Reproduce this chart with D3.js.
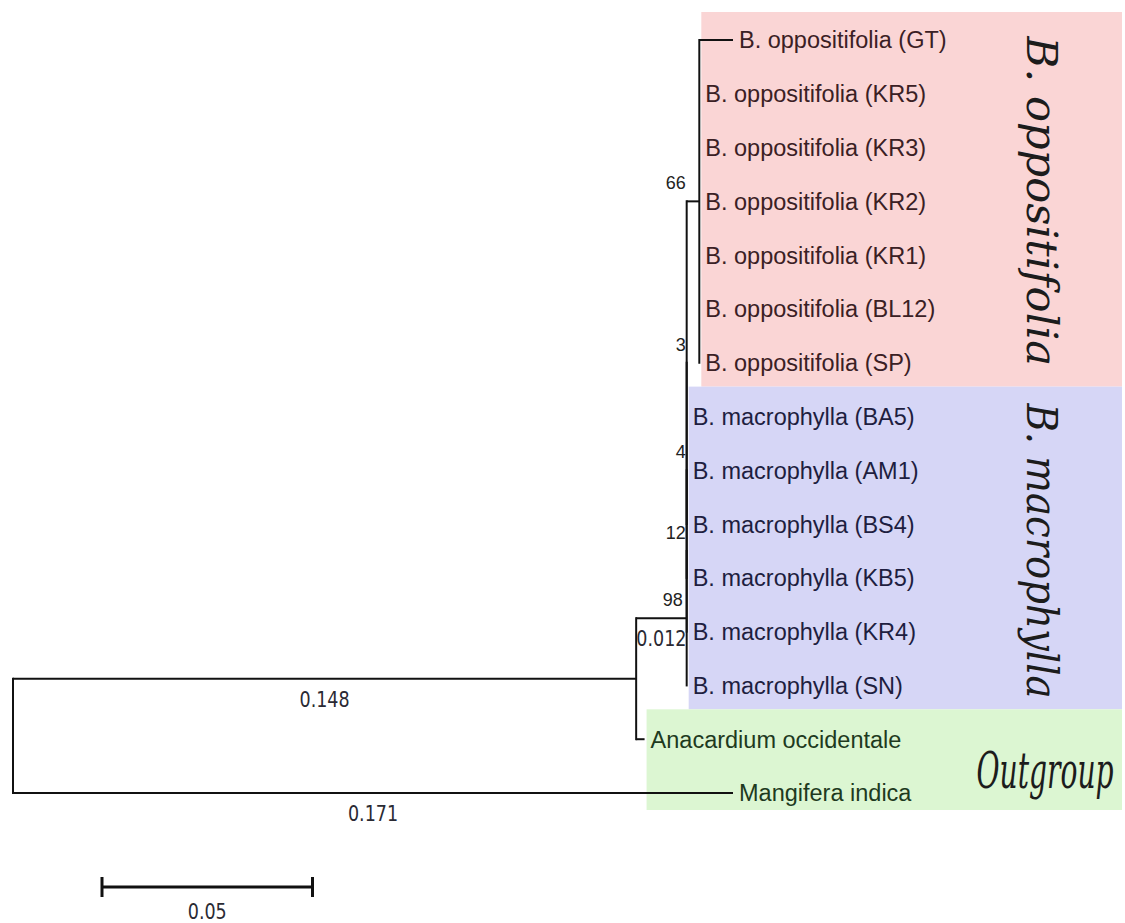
<!DOCTYPE html>
<html><head><meta charset="utf-8">
<script src="https://cdn.jsdelivr.net/npm/d3@7"></script>
<style>body{margin:0;background:#fff}</style>
</head><body>
<svg id="chart" width="1125" height="923"></svg>
<script>
// ---------- data ----------
const tipOrder = [
  "B. oppositifolia (GT)", "B. oppositifolia (KR5)", "B. oppositifolia (KR3)",
  "B. oppositifolia (KR2)", "B. oppositifolia (KR1)", "B. oppositifolia (BL12)",
  "B. oppositifolia (SP)", "B. macrophylla (BA5)", "B. macrophylla (AM1)",
  "B. macrophylla (BS4)", "B. macrophylla (KB5)", "B. macrophylla (KR4)",
  "B. macrophylla (SN)", "Anacardium occidentale", "Mangifera indica"
];
const nodeNames = ["root", "nOut", "n98", "n12", "n4", "n3", "n66"].concat(tipOrder);
const nodeParents = ["", "root", "nOut", "n98", "n12", "n4", "n3",
  "n66", "n66", "n66", "n66", "n66", "n66", "n66",
  "n3", "n3", "n3", "n4", "n12", "n98", "nOut", "root"];
const branchLengths = [0, 0.148, 0.012, 0, 0, 0, 0.003,
  0.008, 0, 0, 0, 0, 0, 0,
  0, 0, 0, 0, 0, 0, 0.002, 0.171];
const bootstrapNodes = ["n66", "n3", "n4", "n12", "n98"];
const bootstrapValues = [66, 3, 4, 12, 98];
const lengthLabelNodes = ["nOut", "Mangifera indica", "n98"];
const lengthLabelValues = ["0.148", "0.171", "0.012"];
const groupNames = ["B. oppositifolia", "B. macrophylla", "Outgroup"];
const groupFirstTip = ["B. oppositifolia (GT)", "B. macrophylla (BA5)", "Anacardium occidentale"];
const groupLastTip = ["B. oppositifolia (SP)", "B. macrophylla (SN)", "Mangifera indica"];
const groupFill = ["#fad5d5", "#d6d6f6", "#dcf6d2"];
const groupText = ["#3a2024", "#1e1e40", "#1e3a1e"];
const scaleBarValue = 0.05;
const scaleBarLabel = "0.05";

// ---------- layout ----------
const svg = d3.select("#chart");
const table = nodeNames.map((n, i) => ({id: n, parent: nodeParents[i] || null, len: branchLengths[i]}));
const root = d3.stratify().id(d => d.id).parentId(d => d.parent)(table);

const x = d3.scaleLinear().domain([0, 0.171]).range([13, 733]);
const y = d3.scalePoint().domain(tipOrder).range([40, 793]);

root.eachBefore(n => { n.dist = (n.parent ? n.parent.dist : 0) + n.data.len; });
root.eachAfter(n => {
  if (!n.children) n.yy = y(n.id);
  else {
    const ys = n.children.map(c => c.yy);
    n.yy = (d3.min(ys) + d3.max(ys)) / 2;
  }
});
const byId = new Map(root.descendants().map(n => [n.id, n]));
const labelOffset = 6;
const tipGroup = id => groupFirstTip.findIndex((f, gi) => {
  const a = tipOrder.indexOf(f), b = tipOrder.indexOf(groupLastTip[gi]), k = tipOrder.indexOf(id);
  return k >= a && k <= b;
});

// ---------- group bands ----------
groupNames.forEach((g, gi) => {
  const a = tipOrder.indexOf(groupFirstTip[gi]), b = tipOrder.indexOf(groupLastTip[gi]);
  const tips = tipOrder.slice(a, b + 1).map(t => byId.get(t));
  const left = d3.min(tips, t => x(t.dist)) + labelOffset - 4;
  const top = gi === 0 ? y(groupFirstTip[gi]) - 28 : (y(groupFirstTip[gi]) + y(tipOrder[a - 1])) / 2 - 3;
  const bottom = gi === groupNames.length - 1 ? y(groupLastTip[gi]) + 17 : (y(groupLastTip[gi]) + y(tipOrder[b + 1])) / 2 - 3;
  svg.append("rect").attr("x", left).attr("y", top).attr("width", 1122 - left).attr("height", bottom - top)
    .attr("fill", groupFill[gi]);
});

// ---------- branches ----------
const gTree = svg.append("g").attr("stroke", "#111").attr("stroke-width", 2).attr("fill", "none");
root.descendants().forEach(n => {
  if (n.parent) {
    gTree.append("line").attr("x1", x(n.parent.dist)).attr("x2", x(n.dist))
      .attr("y1", n.yy).attr("y2", n.yy);
  }
  if (n.children) {
    const ys = n.children.map(c => c.yy);
    gTree.append("line").attr("x1", x(n.dist)).attr("x2", x(n.dist))
      .attr("y1", d3.min(ys)).attr("y2", d3.max(ys)).attr("stroke-linecap", "square");
  }
});

// ---------- tip labels ----------
root.leaves().forEach(n => {
  const gi = tipGroup(n.id);
  svg.append("text").attr("x", x(n.dist) + labelOffset).attr("y", n.yy).attr("dy", "0.36em")
    .attr("font-family", "'Liberation Sans', Arial, sans-serif").attr("font-size", 23.5)
    .attr("fill", groupText[gi]).text(n.id);
});

// ---------- bootstrap labels ----------
bootstrapNodes.forEach((id, i) => {
  const n = byId.get(id);
  const nx = x(n.dist), px = x(n.parent.dist);
  const ex = (nx - px) < 20 ? px - 1 : nx - 4;
  svg.append("text").attr("x", ex).attr("y", n.yy - 12).attr("text-anchor", "end")
    .attr("font-family", "'Liberation Sans', Arial, sans-serif").attr("font-size", 18)
    .attr("fill", "#222").text(bootstrapValues[i]);
});

// ---------- branch length labels ----------
lengthLabelNodes.forEach((id, i) => {
  const n = byId.get(id);
  const mx = (x(n.parent.dist) + x(n.dist)) / 2;
  svg.append("text").attr("transform", `translate(${mx},${n.yy + 28}) scale(1,1.12)`)
    .attr("text-anchor", "middle")
    .attr("font-family", "'DejaVu Sans Condensed', 'DejaVu Sans', sans-serif").attr("font-size", 19.5)
    .attr("fill", "#2a2a33").text(lengthLabelValues[i]);
});

// ---------- group labels ----------
groupNames.forEach((g, gi) => {
  const a = y(groupFirstTip[gi]), b = y(groupLastTip[gi]);
  const t = svg.append("text").attr("font-family", "'DejaVu Serif', serif").attr("font-style", "italic")
    .attr("fill", "#1c1c1c").attr("text-anchor", "middle").attr("font-size", 42).text(g);
  if (gi === 0) {
    t.attr("transform", `translate(1027,${(a + b) / 2}) rotate(90) scale(1.03,1)`);
  } else if (gi === 1) {
    t.attr("transform", `translate(1027,${(a + b) / 2}) rotate(90) scale(0.92,1)`);
  } else {
    t.attr("font-size", 44).attr("transform", `translate(1045,788) scale(0.64,1.16)`);
  }
});

// ---------- scale bar ----------
const sb0 = 102, sb1 = sb0 + (x(scaleBarValue) - x(0)), sby = 887;
const gs = svg.append("g").attr("stroke", "#111").attr("stroke-width", 3);
gs.append("line").attr("x1", sb0).attr("x2", sb1).attr("y1", sby).attr("y2", sby);
gs.append("line").attr("x1", sb0).attr("x2", sb0).attr("y1", sby - 10).attr("y2", sby + 10);
gs.append("line").attr("x1", sb1).attr("x2", sb1).attr("y1", sby - 10).attr("y2", sby + 10);
svg.append("text").attr("transform", `translate(${(sb0 + sb1) / 2},919) scale(1,1.12)`).attr("text-anchor", "middle")
  .attr("font-family", "'DejaVu Sans Condensed', 'DejaVu Sans', sans-serif").attr("font-size", 19.5)
  .attr("fill", "#2a2a33").text(scaleBarLabel);
</script>
</body></html>
